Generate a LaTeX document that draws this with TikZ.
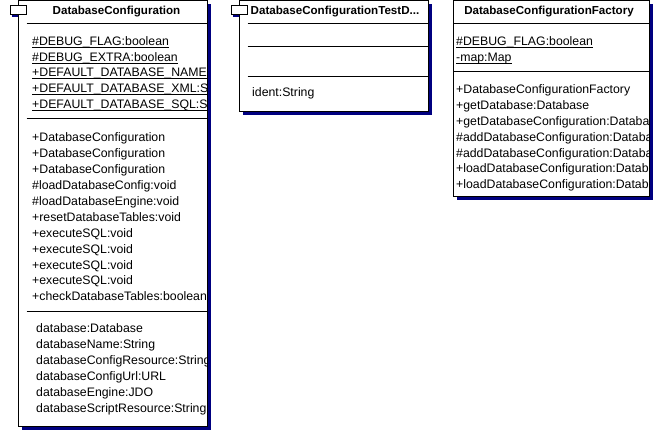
\documentclass[tikz,border=0pt]{standalone}
\usepackage{fontspec}
\setmainfont{Liberation Sans}
\usepackage{xcolor}
\usepackage{tikz}
\usetikzlibrary{
  positioning,
  shadows
}
\definecolor{umlshadow}{HTML}{000080}
\newcommand{\isstatic}[1]{\setbox0=\hbox{#1}\rlap{\rule[-2.5bp]{\wd0}{1bp}}\box0}

\begin{document}
\begin{tikzpicture}[
  x=1bp, y=-1bp,
  cls/.style={draw, fill=white, line width=1bp, anchor=north west, inner sep=0pt,
    drop shadow={shadow xshift=3bp, shadow yshift=-3bp, fill=umlshadow, opacity=1}},
  tab/.style={draw, fill=white, line width=1bp, minimum width=16bp, minimum height=9bp, inner sep=0pt},
  sep/.style={line width=1bp},
  title/.style={font=\fontsize{11.6bp}{14bp}\selectfont\bfseries, inner sep=0pt, anchor=base},
  rows/.style={font=\fontsize{12.3bp}{15.9bp}\selectfont, align=left, inner sep=0pt, anchor=north west},
]
  \useasboundingbox (0,0) rectangle (661,431);

  % DatabaseConfiguration
  \node[cls, minimum width=189bp, minimum height=426bp] (cfg) at (18,0) {};
  \node[tab, below=5bp of cfg.north west] (cfgtab) {};
  \fill[umlshadow] ([xshift=2bp]cfgtab.south west) rectangle ([yshift=-2bp]cfg.west |- cfgtab.south);
  \node[tab, below=5bp of cfg.north west] {};
  \draw[sep] (cfgtab.east |- 0,23) -- (cfg.east |- 0,23);
  \draw[sep] (cfgtab.east |- 0,118.5) -- (cfg.east |- 0,118.5);
  \draw[sep] (cfgtab.east |- 0,311.5) -- (cfg.east |- 0,311.5);
  \node[title] (cfgname) at (116.5,14) {DatabaseConfiguration};
  \begin{scope}
    \clip (cfg.north west) rectangle ([xshift=-0.5bp]cfg.south east);
    \node[rows] (cfgattr) at (32,36) {\isstatic{\#DEBUG\_FLAG:boolean}\\
      \isstatic{\#DEBUG\_EXTRA:boolean}\\
      \isstatic{+DEFAULT\_DATABASE\_NAME:String}\\
      \isstatic{+DEFAULT\_DATABASE\_XML:String}\\
      \isstatic{+DEFAULT\_DATABASE\_SQL:String}};
    \node[rows] (cfgops) at (32,132.7) {+DatabaseConfiguration\\
      +DatabaseConfiguration\\
      +DatabaseConfiguration\\
      \#loadDatabaseConfig:void\\
      \#loadDatabaseEngine:void\\
      +resetDatabaseTables:void\\
      +executeSQL:void\\
      +executeSQL:void\\
      +executeSQL:void\\
      +executeSQL:void\\
      +checkDatabaseTables:boolean};
    \node[rows] (cfgprops) at (36,323.7) {database:Database\\
      databaseName:String\\
      databaseConfigResource:String\\
      databaseConfigUrl:URL\\
      databaseEngine:JDO\\
      databaseScriptResource:String};
  \end{scope}

  % DatabaseConfigurationTestD...
  \node[cls, minimum width=189bp, minimum height=111bp, right=31bp of cfg.north east, anchor=north west] (test) {};
  \node[tab, below=5bp of test.north west] (testtab) {};
  \fill[umlshadow] ([xshift=2bp]testtab.south west) rectangle ([yshift=-2bp]test.west |- testtab.south);
  \node[tab, below=5bp of test.north west] {};
  \draw[sep] (testtab.east |- 0,23) -- (test.east |- 0,23);
  \draw[sep] (testtab.east |- 0,46.5) -- (test.east |- 0,46.5);
  \draw[sep] (testtab.east |- 0,76) -- (test.east |- 0,76);
  \node[title, anchor=base west] (testname) at (250.5,14) {DatabaseConfigurationTestD...};
  \node[rows] (testprops) at (252,87.7) {ident:String};

  % DatabaseConfigurationFactory
  \node[cls, minimum width=196bp, minimum height=196bp, right=24bp of test.north east, anchor=north west] (fact) {};
  \draw[sep] (fact.west |- 0,23) -- (fact.east |- 0,23);
  \draw[sep] (fact.west |- 0,71) -- (fact.east |- 0,71);
  \node[title] (factname) at (549,14) {DatabaseConfigurationFactory};
  \begin{scope}
    \clip (fact.north west) rectangle ([xshift=-0.5bp]fact.south east);
    \node[rows] (factattr) at (456,36) {\isstatic{\#DEBUG\_FLAG:boolean}\\
      \isstatic{-map:Map}};
    \node[rows] (factops) at (456,84.3) {+DatabaseConfigurationFactory\\
      +getDatabase:Database\\
      +getDatabaseConfiguration:DatabaseConfiguration\\
      \#addDatabaseConfiguration:DatabaseConfiguration\\
      \#addDatabaseConfiguration:DatabaseConfiguration\\
      +loadDatabaseConfiguration:DatabaseConfiguration\\
      +loadDatabaseConfiguration:DatabaseConfiguration};
  \end{scope}
\end{tikzpicture}
\end{document}
